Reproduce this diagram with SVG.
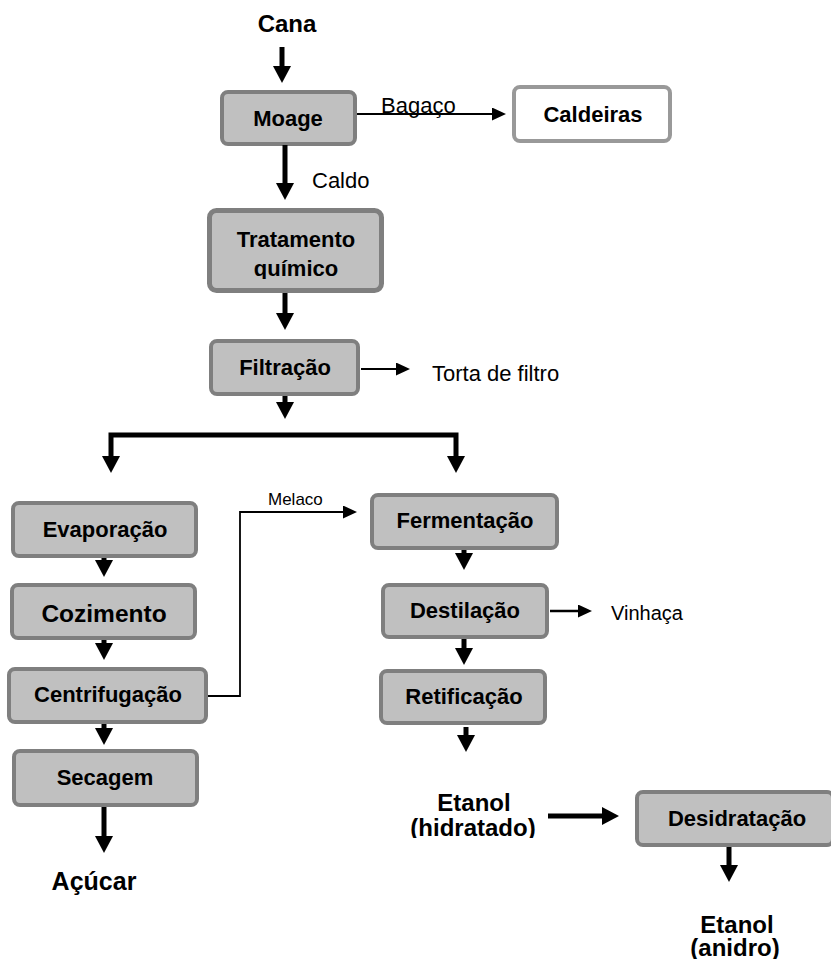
<svg xmlns="http://www.w3.org/2000/svg" width="831" height="959" viewBox="0 0 831 959">
<style>
.box{fill:#c0c0c0;stroke:#7f7f7f;stroke-width:4}
.wbox{fill:#ffffff;stroke:#999999;stroke-width:4}
.lbl{font-family:"Liberation Sans",Arial,sans-serif;font-weight:bold;font-size:22px;fill:#000;text-anchor:middle}
.big{font-family:"Liberation Sans",Arial,sans-serif;font-weight:bold;font-size:24px;fill:#000;text-anchor:middle}
.reg{font-family:"Liberation Sans",Arial,sans-serif;font-size:22px;fill:#000}
.thick{fill:none;stroke:#000;stroke-width:5;marker-end:url(#bigHead)}
.thin{fill:none;stroke:#000;stroke-width:1.8;marker-end:url(#smallHead)}
</style>
<defs>
<marker id="bigHead" viewBox="0 0 17 18" refX="0" refY="9" markerWidth="17" markerHeight="18" markerUnits="userSpaceOnUse" orient="auto">
<path d="M0,0 L17,9 L0,18 Z" fill="#000"/>
</marker>
<marker id="smallHead" viewBox="0 0 14 13" refX="0" refY="6.5" markerWidth="14" markerHeight="13" markerUnits="userSpaceOnUse" orient="auto">
<path d="M0,0 L14,6.5 L0,13 Z" fill="#000"/>
</marker>
<clipPath id="clipHid"><rect x="380" y="780" width="200" height="58"/></clipPath>
<clipPath id="clipQui"><rect x="200" y="220" width="200" height="59"/></clipPath>
</defs>

<g id="cana"><text class="big" x="287" y="32">Cana</text></g>

<g id="moage"><rect class="box" x="222" y="92" width="133" height="52" rx="6"/><text class="lbl" x="288" y="126">Moage</text></g>

<g id="caldeiras"><rect class="wbox" x="514" y="87" width="156" height="54" rx="6"/><text class="lbl" x="593" y="122">Caldeiras</text></g>

<g id="tratamento"><rect class="box" x="209.5" y="210.5" width="172" height="80" rx="7" style="stroke-width:5"/>
<text class="lbl" x="296" y="247">Tratamento</text>
<text class="lbl" x="296" y="276" clip-path="url(#clipQui)">químico</text></g>

<g id="filtracao"><rect class="box" x="211" y="341" width="147" height="53" rx="6"/><text class="lbl" x="285" y="375">Filtração</text></g>

<g id="evaporacao"><rect class="box" x="13" y="503" width="183" height="53" rx="6"/><text class="lbl" x="105" y="537">Evaporação</text></g>

<g id="cozimento"><rect class="box" x="12" y="585" width="183" height="53" rx="6"/><text class="lbl" x="104" y="622" style="font-size:24.5px">Cozimento</text></g>

<g id="centrifugacao"><rect class="box" x="9" y="669" width="197" height="53" rx="6"/><text class="lbl" x="108" y="702">Centrifugação</text></g>

<g id="secagem"><rect class="box" x="14" y="751" width="183" height="54" rx="6"/><text class="lbl" x="105" y="785">Secagem</text></g>

<g id="acucar"><text class="big" x="94" y="890" style="font-size:25px">Açúcar</text></g>

<g id="fermentacao"><rect class="box" x="372" y="495" width="185" height="53" rx="6"/><text class="lbl" x="465" y="528">Fermentação</text></g>

<g id="destilacao"><rect class="box" x="383" y="585" width="164" height="52" rx="6"/><text class="lbl" x="465" y="618">Destilação</text></g>

<g id="retificacao"><rect class="box" x="381" y="671" width="164" height="52" rx="6"/><text class="lbl" x="464" y="704">Retificação</text></g>

<g id="etanol-hidratado"><text class="big" x="474" y="811">Etanol</text><text class="big" x="473" y="836" clip-path="url(#clipHid)">(hidratado)</text></g>

<g id="desidratacao"><rect class="box" x="637" y="792" width="196" height="53" rx="6"/><text class="lbl" x="737" y="826">Desidratação</text></g>

<g id="etanol-anidro"><text class="big" x="737" y="933">Etanol</text><text class="big" x="735" y="956">(anidro)</text></g>

<g id="connectors">
<path class="thick" d="M282,47 V66"/>
<path class="thick" d="M285,145 V183"/>
<path class="thick" d="M285,293 V313"/>
<path class="thick" d="M285,396 V402"/>
<path class="thick" d="M285,435 H111 V456" style="stroke-linejoin:miter"/>
<path class="thick" d="M285,435 H456 V456" style="stroke-linejoin:miter"/>
<path class="thick" d="M104,558 V560"/>
<path class="thick" d="M104,640 V643"/>
<path class="thick" d="M104,724 V728"/>
<path class="thick" d="M104,807 V836"/>
<path class="thick" d="M464,550 V553"/>
<path class="thick" d="M464,639 V648"/>
<path class="thick" d="M466,727 V735"/>
<path class="thick" d="M548,816 H602"/>
<path class="thick" d="M729,847 V865"/>
<path class="thin" d="M357,114 H492"/>
<path class="thin" d="M361,369 H396"/>
<path class="thin" d="M550,611 H578" style="stroke-width:2.5"/>
<path class="thin" d="M208,696 H240 V512 H343" style="stroke-linejoin:miter"/>
<text class="reg" x="381" y="113">Bagaço</text>
<text class="reg" x="312" y="188">Caldo</text>
<text class="reg" x="432" y="381">Torta de filtro</text>
<text class="reg" x="611" y="620" style="font-size:20px">Vinhaça</text>
<text class="reg" x="268" y="505" style="font-size:17px">Melaco</text>
</g>
</svg>
